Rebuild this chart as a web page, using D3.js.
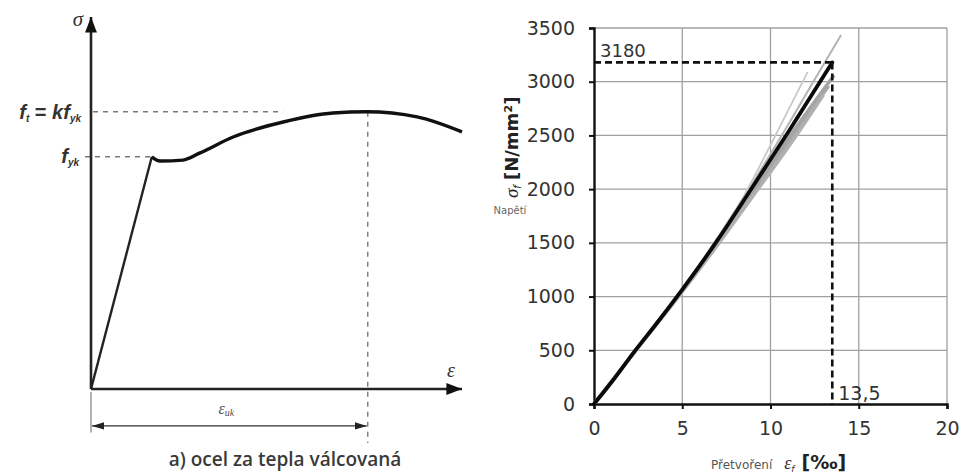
<!DOCTYPE html>
<html>
<head>
<meta charset="utf-8">
<script src="https://cdn.jsdelivr.net/npm/d3@7"></script>
<style>
  html, body { margin: 0; padding: 0; background: #fff; }
  svg { display: block; font-family: "DejaVu Sans", Verdana, sans-serif; }
</style>
</head>
<body>
<svg id="fig" width="960" height="474"></svg>
<script>
// ---------- Left panel: idealised stress–strain diagram of hot-rolled steel (schematic units) ----------
const schemStrain = [0, 16.4, 18.6, 24.8, 29.4, 38.3, 51.8, 65.2, 74.4, 87.9, 100];
const schemStress = [0, 77.4, 76.0, 76.3, 78.7, 84.0, 89.0, 92.0, 92.4, 90.7, 85.7];
const schemYield = 77.4;      // f_yk
const schemTensile = 92.4;    // f_t = k f_yk
const schemUltStrain = 74.6;  // ε_uk
const schemCaption = "a) ocel za tepla válcovaná";

// ---------- Right panel: measured stress–strain curves ----------
const strainTicks = [0, 5, 10, 15, 20];
const stressTicks = [0, 500, 1000, 1500, 2000, 2500, 3000, 3500];
// mean curve (black)
const meanStrain = [0, 1, 2.3, 3.5, 5, 6, 7, 9, 11, 13.5];
const meanStress = [0, 205, 490, 740, 1065, 1290, 1525, 2025, 2530, 3180];
// individual specimens (grey)
const specimens = [
  { strain: [0, 2.3, 5, 7, 9, 11, 12.5, 14.0], stress: [0, 495, 1070, 1545, 2060, 2600, 3020, 3435] },
  { strain: [0, 2.3, 5, 7, 8.5, 10, 12.1],     stress: [0, 495, 1075, 1550, 1940, 2410, 3090] },
  { strain: [0, 2.3, 5, 7, 9, 11, 13.3],       stress: [0, 485, 1050, 1495, 1965, 2440, 2960] },
  { strain: [0, 2.3, 5, 7, 9, 11, 13.6],       stress: [0, 487, 1055, 1505, 1985, 2470, 3060] },
  { strain: [0, 2.3, 5, 7, 9, 11, 13.0],       stress: [0, 483, 1045, 1480, 1935, 2390, 2880] }
];
const peakStress = 3180;
const peakStrain = 13.5;
const peakStressLabel = "3180";
const peakStrainLabel = "13,5";

const svg = d3.select("#fig");

// ===== Left panel =====
const xL = d3.scaleLinear().domain([0, 100]).range([91, 462]);
const yL = d3.scaleLinear().domain([0, 100]).range([389, 89]);
const gL = svg.append("g");

const defs = svg.append("defs");
defs.append("marker").attr("id", "arrowBig").attr("viewBox", "0 0 10 10")
  .attr("refX", 10).attr("refY", 5).attr("markerWidth", 6).attr("markerHeight", 6)
  .attr("markerUnits", "strokeWidth").attr("orient", "auto")
  .append("path").attr("d", "M0,1.2 L10,5 L0,8.8 Z").attr("fill", "#111");
defs.append("marker").attr("id", "arrowDim").attr("viewBox", "0 0 10 10")
  .attr("refX", 10).attr("refY", 5).attr("markerWidth", 10).attr("markerHeight", 10)
  .attr("markerUnits", "strokeWidth").attr("orient", "auto-start-reverse")
  .append("path").attr("d", "M0,2 L10,5 L0,8 Z").attr("fill", "#222");

// guide lines
const guide = { stroke: "#7a7a7a", "stroke-width": 1.4, "stroke-dasharray": "5,5" };
function applyAttrs(sel, a) { Object.entries(a).forEach(([k, v]) => sel.attr(k, v)); return sel; }
applyAttrs(gL.append("line")
  .attr("x1", xL(0) + 2).attr("x2", xL(51.8)).attr("y1", yL(schemTensile)).attr("y2", yL(schemTensile)), guide);
applyAttrs(gL.append("line")
  .attr("x1", xL(0) - 6).attr("x2", xL(16)).attr("y1", yL(schemYield)).attr("y2", yL(schemYield)), guide);
applyAttrs(gL.append("line")
  .attr("x1", xL(schemUltStrain)).attr("x2", xL(schemUltStrain)).attr("y1", yL(schemTensile)).attr("y2", yL(-18)), guide);

// axes with arrows
gL.append("line").attr("x1", xL(0)).attr("x2", xL(0)).attr("y1", yL(0)).attr("y2", yL(124))
  .attr("stroke", "#222").attr("stroke-width", 2.6).attr("marker-end", "url(#arrowBig)");
gL.append("line").attr("x1", xL(0)).attr("x2", xL(100)).attr("y1", yL(0)).attr("y2", yL(0))
  .attr("stroke", "#222").attr("stroke-width", 2.6).attr("marker-end", "url(#arrowBig)");

// curve
const schemPts = schemStrain.map((e, i) => [e, schemStress[i]]);
gL.append("path").datum(schemPts.slice(0, 2))
  .attr("d", d3.line().x(d => xL(d[0])).y(d => yL(d[1])))
  .attr("fill", "none").attr("stroke", "#222").attr("stroke-width", 2.4);
gL.append("path").datum(schemPts.slice(1))
  .attr("d", d3.line().x(d => xL(d[0])).y(d => yL(d[1])).curve(d3.curveMonotoneX))
  .attr("fill", "none").attr("stroke", "#111").attr("stroke-width", 3.4).attr("stroke-linejoin", "round");

// dimension line ε_uk
gL.append("line").attr("x1", xL(0)).attr("x2", xL(0)).attr("y1", yL(-1)).attr("y2", yL(-14.5))
  .attr("stroke", "#888").attr("stroke-width", 1.3);
gL.append("line").attr("x1", xL(0) + 1).attr("x2", xL(schemUltStrain) - 1).attr("y1", yL(-12.3)).attr("y2", yL(-12.3))
  .attr("stroke", "#333").attr("stroke-width", 1.2)
  .attr("marker-start", "url(#arrowDim)").attr("marker-end", "url(#arrowDim)");

// labels
gL.append("text").attr("x", xL(0) - 8).attr("y", yL(121)).attr("text-anchor", "end")
  .attr("font-family", "Liberation Serif, serif").attr("font-style", "italic").attr("font-size", 21).attr("fill", "#333").text("σ");
gL.append("text").attr("x", xL(97)).attr("y", yL(4)).attr("text-anchor", "middle")
  .attr("font-family", "Liberation Serif, serif").attr("font-style", "italic").attr("font-size", 20).attr("fill", "#333").text("ε");

const ft = gL.append("text").attr("x", xL(0) - 10).attr("y", yL(schemTensile) + 7).attr("text-anchor", "end")
  .attr("font-family", "Liberation Sans, Arial, sans-serif")
  .attr("font-size", 20).attr("fill", "#333").attr("font-style", "italic").attr("font-weight", "bold");
ft.append("tspan").text("f");
ft.append("tspan").attr("font-size", 10).attr("dy", 3).text("t");
ft.append("tspan").attr("dy", -3).attr("font-style", "normal").text(" = ");
ft.append("tspan").text("kf");
ft.append("tspan").attr("font-size", 10).attr("dy", 3).text("yk");

const fy = gL.append("text").attr("x", xL(0) - 12).attr("y", yL(schemYield) + 6).attr("text-anchor", "end")
  .attr("font-family", "Liberation Sans, Arial, sans-serif")
  .attr("font-size", 20).attr("fill", "#333").attr("font-style", "italic").attr("font-weight", "bold");
fy.append("tspan").text("f");
fy.append("tspan").attr("font-size", 10).attr("dy", 3).text("yk");

const eu = gL.append("text").attr("x", xL(schemUltStrain / 2) - 3).attr("y", yL(-8.3)).attr("text-anchor", "middle")
  .attr("font-family", "Liberation Serif, serif").attr("font-style", "italic").attr("font-size", 16).attr("fill", "#555");
eu.append("tspan").text("ε");
eu.append("tspan").attr("font-size", 10).attr("dy", 2).text("uk");

gL.append("text").attr("x", 285).attr("y", 466).attr("text-anchor", "middle")
  .attr("font-family", "Open Sans, sans-serif")
  .attr("font-size", 19).attr("fill", "#3a3a3a").attr("font-weight", 600).text(schemCaption);

// ===== Right panel =====
const xR = d3.scaleLinear().domain([0, 20]).range([594, 947]);
const yR = d3.scaleLinear().domain([0, 3500]).range([404, 28]);
const gR = svg.append("g");

// grid
gR.append("g").selectAll("line").data(stressTicks.slice(1)).join("line")
  .attr("x1", xR(0)).attr("x2", xR(20)).attr("y1", d => yR(d)).attr("y2", d => yR(d))
  .attr("stroke", "#a0a0a0").attr("stroke-width", 1.3);
gR.append("g").selectAll("line").data(strainTicks.slice(1)).join("line")
  .attr("x1", d => xR(d)).attr("x2", d => xR(d)).attr("y1", yR(0)).attr("y2", yR(3500))
  .attr("stroke", "#a0a0a0").attr("stroke-width", 1.3);

// axes
const yAxis = d3.axisLeft(yR).tickValues(stressTicks).tickSize(5).tickPadding(14).tickFormat(d3.format("d"));
const xAxis = d3.axisBottom(xR).tickValues(strainTicks).tickSize(5).tickPadding(13).tickFormat(d3.format("d"));
const ya = gR.append("g").attr("transform", `translate(${xR(0)},0)`).call(yAxis);
const xa = gR.append("g").attr("transform", `translate(0,${yR(0)})`).call(xAxis);
[ya, xa].forEach(a => {
  a.select(".domain").attr("stroke", "#111").attr("stroke-width", 2.4);
  a.selectAll(".tick line").attr("stroke", "#111").attr("stroke-width", 2);
  a.selectAll(".tick text").attr("font-size", 19).attr("fill", "#333")
    .attr("font-family", "DejaVu Sans, Verdana, sans-serif");
});

// specimen curves
const lineR = d3.line().x(d => xR(d[0])).y(d => yR(d[1])).curve(d3.curveMonotoneX);
const specWidths = [2, 1.8, 3.5, 3.5, 3.5];
const specColors = ["#b4b4b4", "#c8c8c8", "#a8a8a8", "#a4a4a4", "#b0b0b0"];
gR.append("g").selectAll("path").data(specimens).join("path")
  .attr("d", s => lineR(s.strain.map((e, i) => [e, s.stress[i]])))
  .attr("fill", "none").attr("stroke", (s, i) => specColors[i]).attr("stroke-width", (s, i) => specWidths[i]);

// mean curve
gR.append("path").datum(meanStrain.map((e, i) => [e, meanStress[i]]))
  .attr("d", lineR).attr("fill", "none").attr("stroke", "#0a0a0a").attr("stroke-width", 3.8)
  .attr("stroke-linecap", "round");

// peak markers
gR.append("line").attr("x1", xR(0)).attr("x2", xR(peakStrain)).attr("y1", yR(peakStress)).attr("y2", yR(peakStress))
  .attr("stroke", "#111").attr("stroke-width", 2.6).attr("stroke-dasharray", "7,4");
gR.append("line").attr("x1", xR(peakStrain)).attr("x2", xR(peakStrain)).attr("y1", yR(peakStress)).attr("y2", yR(0))
  .attr("stroke", "#111").attr("stroke-width", 2.6).attr("stroke-dasharray", "7,4");
gR.append("text").attr("x", xR(0) + 6).attr("y", yR(peakStress) - 5)
  .attr("font-size", 18).attr("fill", "#333").text(peakStressLabel);
gR.append("text").attr("x", xR(peakStrain) + 6).attr("y", yR(0) - 4)
  .attr("font-size", 19).attr("fill", "#333").text(peakStrainLabel);

// axis titles
const xt = gR.append("text").attr("x", 711).attr("y", 469).attr("fill", "#555");
xt.append("tspan").attr("font-size", 12).text("Přetvoření");
xt.append("tspan").attr("dx", 12).attr("font-family", "Liberation Serif, serif").attr("font-style", "italic")
  .attr("font-size", 18).attr("fill", "#333").text("ε");
xt.append("tspan").attr("font-size", 9).attr("dy", 3).attr("font-style", "italic").attr("fill", "#333").text("f");
xt.append("tspan").attr("dy", -3).attr("dx", 7).attr("font-size", 19).attr("font-weight", "bold").attr("fill", "#222").text("[‰]");

const yt = gR.append("text").attr("transform", "translate(518,198) rotate(-90)").attr("fill", "#222");
yt.append("tspan").attr("font-family", "Liberation Serif, serif").attr("font-style", "italic").attr("font-size", 19).text("σ");
yt.append("tspan").attr("font-size", 10).attr("dy", 3).attr("font-style", "italic").text("f");
yt.append("tspan").attr("dy", -3).attr("dx", 5).attr("font-size", 18).attr("font-weight", "bold").text("[N/mm²]");
gR.append("text").attr("x", 510).attr("y", 214).attr("text-anchor", "middle")
  .attr("font-size", 10).attr("fill", "#666").text("Napětí");
</script>
</body>
</html>
